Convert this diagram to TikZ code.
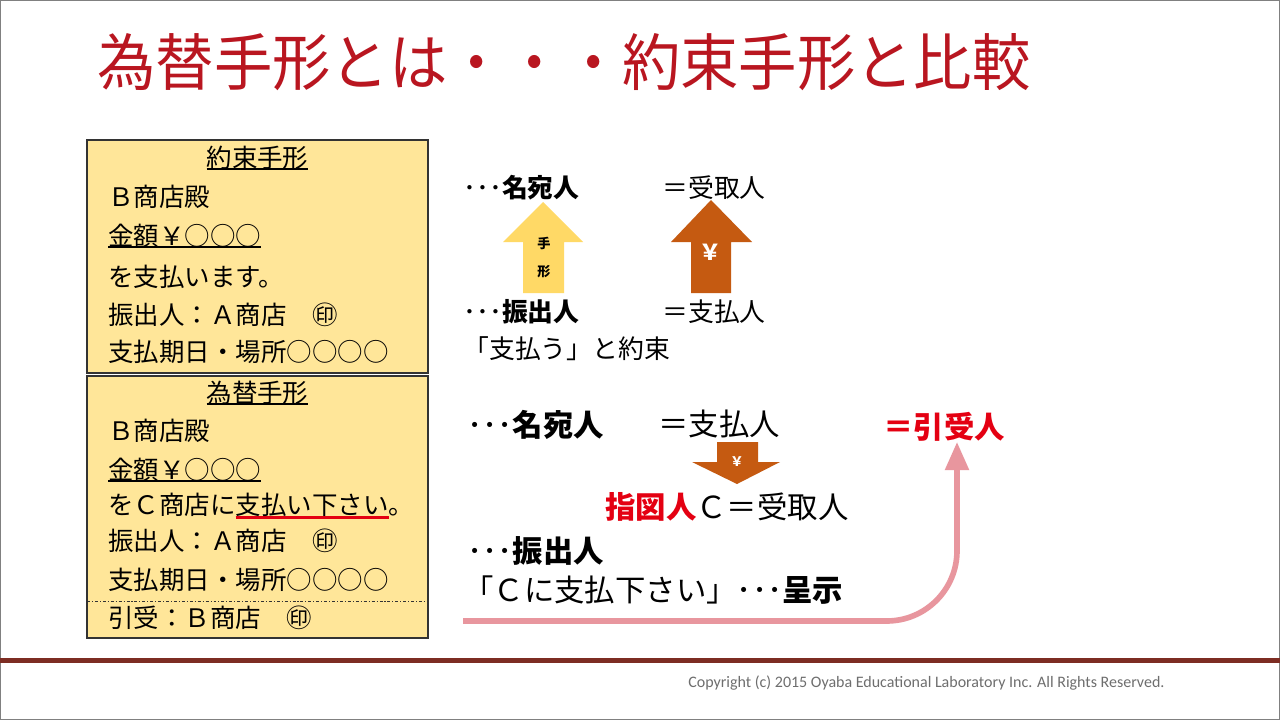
\documentclass[tikz,border=0pt]{standalone}
\usepackage{fontspec}
\setmainfont{Noto Sans CJK JP}
\newfontfamily\copyfont{Carlito}
\usetikzlibrary{arrows.meta, positioning}

\definecolor{titlered}{RGB}{185,22,32}
\definecolor{akared}{RGB}{228,0,18}
\definecolor{boxfill}{RGB}{255,230,153}
\definecolor{tegata}{RGB}{255,217,102}
\definecolor{yenbrown}{RGB}{197,90,17}
\definecolor{pinkline}{RGB}{232,150,158}
\definecolor{rulebrown}{RGB}{125,45,35}
\definecolor{copygray}{RGB}{110,110,110}

% underlines for the bill text
\newcommand{\kuroul}[1]{\setbox0=\hbox{#1}\rlap{\rule[-0.09em]{\wd0}{0.055em}}\box0}
\newcommand{\akasen}[1]{\setbox0=\hbox{#1}\rlap{\color{akared}\rule[-0.17em]{\wd0}{0.13em}}\box0}

\tikzset{
  boxline/.style = {anchor=west, inner sep=0, font=\fontsize{14.5}{17}\selectfont},
  boxtitle/.style = {boxline, anchor=center},
  uptext/.style = {anchor=west, inner sep=0, font=\fontsize{14.7}{17}\selectfont},
  lowtext/.style = {anchor=west, inner sep=0, font=\fontsize{17.3}{20}\selectfont},
}

\begin{document}
\begin{tikzpicture}[x=0.02cm, y=-0.02cm]
   \useasboundingbox (0,0) rectangle (1280,720);
   \fill[white] (0,0) rectangle (1280,720);
   \draw[gray, line width=1pt] (0.5,0.5) rectangle (1279.5,719.5);

   \node[anchor=west, inner sep=0, text=titlered, font=\fontsize{33.2}{36}\selectfont, yscale=1.06] (title) at (97,62) {為替手形とは・・・約束手形と比較};

   % the two bills
   \draw[fill=boxfill, draw=black!80, line width=0.6pt] (87,140) rectangle (428,373);
   \draw[fill=boxfill, draw=black!80, line width=0.6pt] (87,376) rectangle (428,638);
   \draw[black!80, line width=0.5pt, dash pattern=on 1.7pt off 1.1pt on 0.6pt off 1.1pt] (87,601) -- (428,601);

   \node[boxtitle] (ytitle) at (257.5,158) {\kuroul{約束手形}};
   \node[boxline] (ydono) at (108,197) {Ｂ商店殿};
   \node[boxline] (ykin) at (108,236) {\kuroul{金額￥○○○}};
   \node[boxline] (yshi) at (108,277) {を支払います。};
   \node[boxline] (yfuri) at (108,315) {振出人：Ａ商店　㊞};
   \node[boxline] (ykijitsu) at (108,352) {支払期日・場所○○○○};

   \node[boxtitle] (ktitle) at (257.5,393) {\kuroul{為替手形}};
   \node[boxline] (kdono) at (108,431) {Ｂ商店殿};
   \node[boxline] (kkin) at (108,470) {\kuroul{金額￥○○○}};
   \node[boxline] (kshi) at (108,506) {をＣ商店に\akasen{支払い下さい}。};
   \node[boxline] (kfuri) at (108,541) {振出人：Ａ商店　㊞};
   \node[boxline] (kkijitsu) at (108,580) {支払期日・場所○○○○};
   \node[boxline] (khikiuke) at (108,618) {引受：Ｂ商店　㊞};

   % promissory note side
   \node[uptext] (meiate1) at (463,188) {･･･\textbf{名宛人}};
   \node[uptext] (uketori1) at (662,188) {＝受取人};
   \node[uptext] (furidashi1) at (463,312) {･･･\textbf{振出人}};
   \node[uptext] (shiharai1) at (662,312) {＝支払人};
   \node[uptext] (yakusoku) at (463,349) {「支払う」と約束};

   \fill[tegata] (523,293) -- (523,242) -- (503,242) -- (543,202) -- (583,242) -- (564,242) -- (564,293) -- cycle;
   \node[font=\fontsize{7.5}{9}\selectfont\bfseries, inner sep=0] (te) at (544,243) {手};
   \node[font=\fontsize{7.5}{9}\selectfont\bfseries, inner sep=0] (kata) at (544,272) {形};
   \fill[yenbrown] (691,293) -- (691,242) -- (671,242) -- (711,200) -- (752,242) -- (731,242) -- (731,293) -- cycle;
   \node[font=\fontsize{12.5}{14}\selectfont\bfseries, text=white, inner sep=0] (yen1) at (710,252) {￥};

   % bill of exchange side
   \node[lowtext] (meiate2) at (467,425) {･･･\textbf{名宛人}};
   \node[lowtext] (shiharai2) at (658,424) {＝支払人};
   \node[lowtext, text=akared] (hikiuke) at (883,427) {\textbf{＝引受人}};
   \fill[yenbrown] (717,442) -- (758,442) -- (758,462) -- (780,462) -- (737,484) -- (692,462) -- (717,462) -- cycle;
   \node[font=\fontsize{7.5}{9}\selectfont\bfseries, text=white, inner sep=0] (yen2) at (737,462) {￥};
   \node[lowtext] (shizu) at (605,507) {\textcolor{akared}{\textbf{指図人}}Ｃ＝受取人};
   \node[lowtext] (furidashi2) at (467,551) {･･･\textbf{振出人}};
   \node[lowtext] (teiji) at (463,590) {「Ｃに支払下さい」･･･\textbf{呈示}};

   \coordinate (pstart) at (463,621);
   \coordinate (pcorner) at (957,621);
   \draw[pinkline, line width=3.2pt, rounded corners=40pt, -{Triangle[length=16pt, width=13pt]}] (pstart) -- (pcorner) -- (pcorner |- hikiuke.south);

   % footer
   \fill[rulebrown] (0,658) rectangle (1280,663);
   \node[anchor=west, inner sep=0, text=copygray, font=\copyfont\fontsize{9.1}{11}\selectfont] (copyright) at (688,683) {Copyright (c) 2015 Oyaba Educational Laboratory Inc. All Rights Reserved.};

\end{tikzpicture}
\end{document}
